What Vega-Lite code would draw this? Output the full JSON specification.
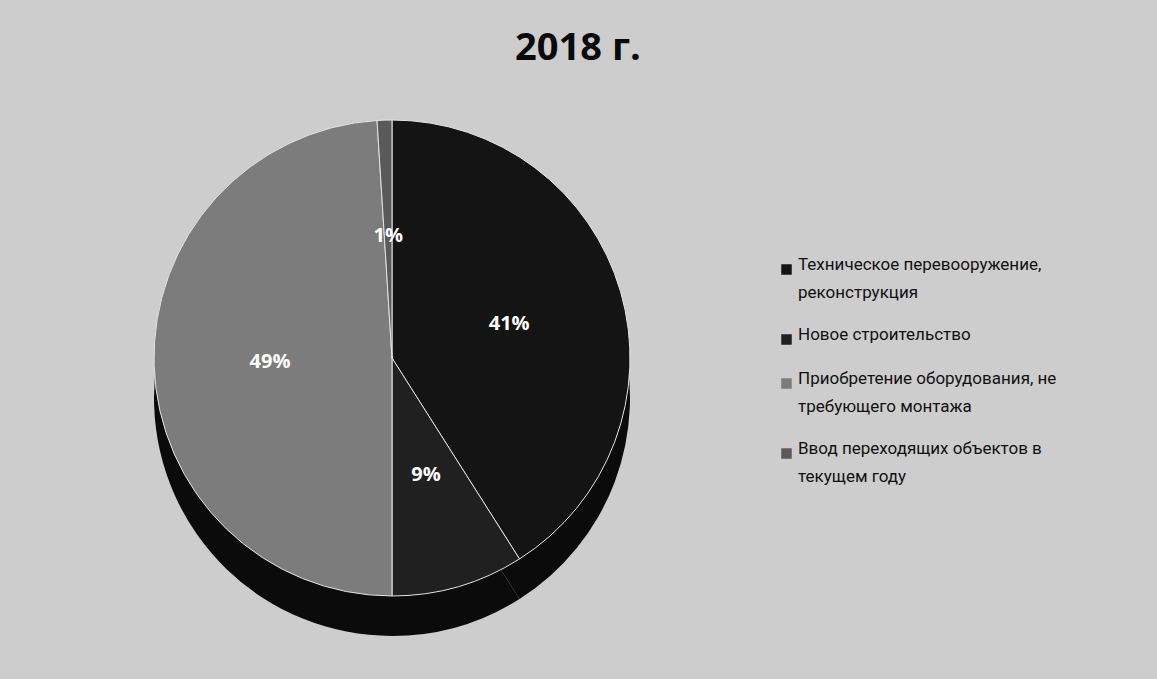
{
  "$schema": "https://vega.github.io/schema/vega-lite/v6.json",
  "width": 784,
  "height": 564,
  "padding": {"left": 0, "top": 30, "right": 101, "bottom": 39},
  "background": "#cdcdcd",
  "title": {"text": "2018 г.", "fontSize": 38, "fontWeight": "bold", "font": "Open Sans", "color": "#0a0a0a", "anchor": "middle", "frame": "group", "dx": 186, "offset": 8},
  "config": {"view": {"stroke": null}, "style": {"guide-label": {"lineHeight": 28}}},
  "data": {"values": [
    {"rank": 1, "category": "Техническое перевооружение, реконструкция", "share": 0.41},
    {"rank": 2, "category": "Новое строительство", "share": 0.09},
    {"rank": 3, "category": "Приобретение оборудования, не требующего монтажа", "share": 0.49},
    {"rank": 4, "category": "Ввод переходящих объектов в текущем году", "share": 0.01}
  ]},
  "encoding": {
    "theta": {"field": "share", "type": "quantitative", "stack": true},
    "order": {"field": "rank", "type": "ordinal"}
  },
  "layer": [
    {"mark": {"type": "arc", "outerRadius": 238, "color": "#0b0b0b", "yOffset": 40}},
    {
      "mark": {"type": "arc", "outerRadius": 238, "stroke": "#e4e4e4", "strokeWidth": 1},
      "encoding": {
        "color": {
          "field": "category", "type": "nominal",
          "sort": ["Техническое перевооружение, реконструкция", "Новое строительство", "Приобретение оборудования, не требующего монтажа", "Ввод переходящих объектов в текущем году"],
          "scale": {
            "domain": ["Техническое перевооружение, реконструкция", "Новое строительство", "Приобретение оборудования, не требующего монтажа", "Ввод переходящих объектов в текущем году"],
            "range": ["#141414", "#202020", "#7c7c7c", "#5a5a5a"]
          },
          "legend": {
            "orient": "none", "legendX": 778, "legendY": 185, "title": null,
            "symbolType": "square", "symbolSize": 110, "symbolStrokeWidth": 0,
            "labelFont": "Roboto", "labelFontSize": 17, "labelColor": "#111111", "labelLimit": 400,
            "labelBaseline": "alphabetic", "rowPadding": 24, "labelOffset": 3,
            "labelExpr": "datum.label == 'Техническое перевооружение, реконструкция' ? ['Техническое перевооружение,', 'реконструкция'] : datum.label == 'Приобретение оборудования, не требующего монтажа' ? ['Приобретение оборудования, не', 'требующего монтажа'] : datum.label == 'Ввод переходящих объектов в текущем году' ? ['Ввод переходящих объектов в', 'текущем году'] : datum.label"
          }
        }
      }
    },
    {
      "mark": {"type": "text", "radius": 122, "fontSize": 20, "fill": "white", "font": "Open Sans", "fontWeight": "bold"},
      "encoding": {"text": {"field": "share", "type": "quantitative", "format": ".0%"}}
    }
  ]
}
